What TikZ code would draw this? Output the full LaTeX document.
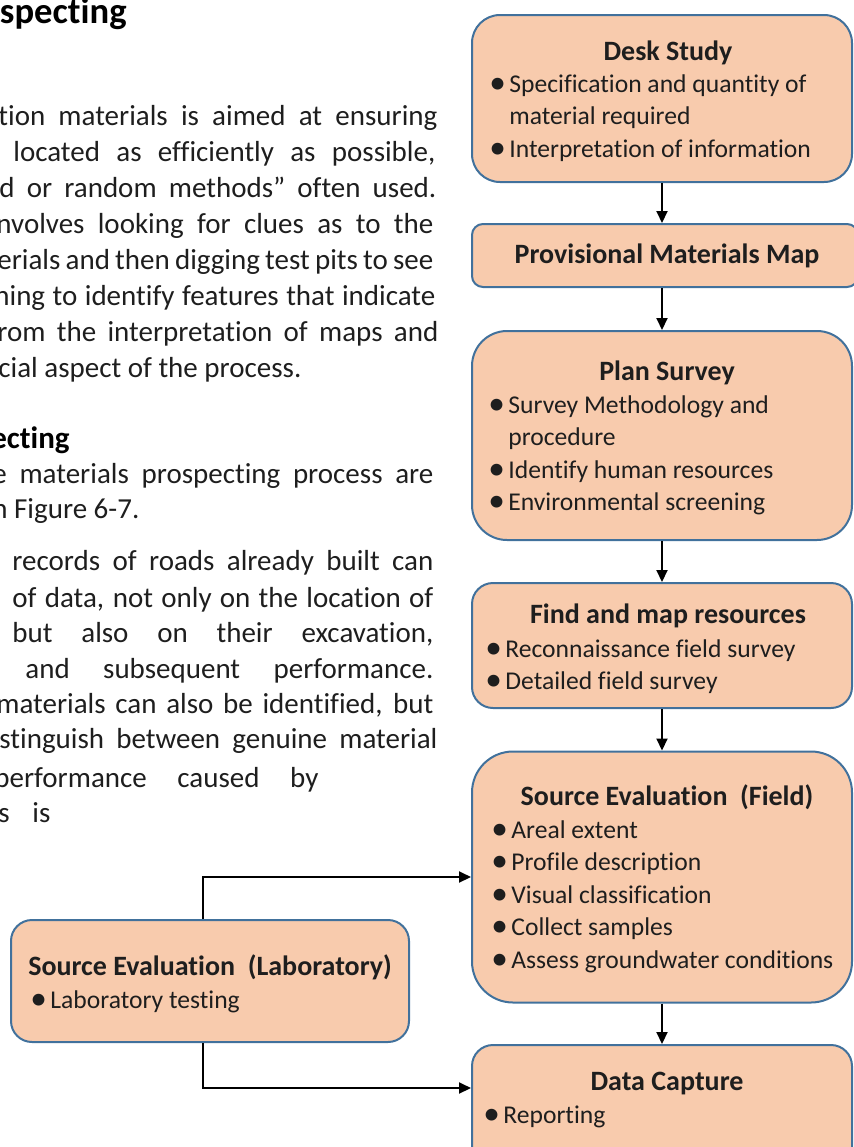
\documentclass[tikz,border=0pt]{standalone}
\usepackage{fontspec}
\setmainfont{Carlito}[Ligatures={NoCommon,NoRare,NoContextual}, RawFeature={-liga,-clig,-calt}]
\usetikzlibrary{arrows.meta}
\definecolor{cFill}{HTML}{F8CBAD}
\definecolor{cLine}{HTML}{41719C}
\definecolor{cText}{HTML}{1E1E1E}
\newcommand{\bul}{\strut\makebox[10pt][l]{\raisebox{-0.6pt}{\scalebox{1.3}{\textbullet}}}}
\newcommand{\cont}{\strut\hspace*{10pt}}

\tikzset{
  stage/.style={draw=cLine, fill=cFill, line width=1pt, inner sep=0pt, minimum width=190pt},
  title/.style={anchor=base, inner sep=0pt, font=\fontsize{14}{17}\selectfont\bfseries, text=cText},
  items/.style={anchor=north west, align=left, inner sep=0pt, font=\fontsize{12.8}{16.25}\selectfont, text=cText},
  body/.style={anchor=base west, inner sep=0pt, font=\fontsize{14.5}{18}\selectfont, text=cText},
  head/.style={anchor=base east, inner sep=0pt, font=\fontsize{#1}{20}\selectfont\bfseries, text=black},
  flow/.style={-{Triangle[length=6pt,width=5.5pt]}, line width=1pt}
}

\begin{document}
\begin{tikzpicture}[x=0.5pt, y=-0.5pt]
  \useasboundingbox (0,0) rectangle (854,1147);
  \clip (0,0) rectangle (854,1147);

  % running text on the left
  \node[head=18.3] (h1) at (127,23) {specting};
  \node[body] (p1) at (-2,125) {\makebox[219.5pt][s]{tion materials is aimed at ensuring}};
  \node[body] (p2) at (13,161) {\makebox[211pt][s]{located as efficiently as possible,}};
  \node[body] (p3) at (-1,197) {\makebox[218.5pt][s]{d or random methods” often used.}};
  \node[body] (p4) at (-4,233) {\makebox[218.5pt][s]{nvolves looking for clues as to the}};
  \node[body] (p5) at (-3,269) {\makebox[218pt][s]{erials and then digging test pits to see}};
  \node[body] (p6) at (-6,305) {\makebox[220.5pt][s]{ning to identify features that indicate}};
  \node[body] (p7) at (-3,341) {\makebox[220.5pt][s]{rom the interpretation of maps and}};
  \node[body] (p8) at (-2,377) {cial aspect of the process.};
  \node[head=15.5] (h2) at (70,448) {ecting};
  \node[body] (p9) at (-8,483) {\makebox[220.5pt][s]{e materials prospecting process are}};
  \node[body] (p10) at (-8,518) {n Figure 6-7.};
  \node[body] (p11) at (12,570) {\makebox[210.5pt][s]{records of roads already built can}};
  \node[body] (p12) at (12,607) {\makebox[210.5pt][s]{of data, not only on the location of}};
  \node[body] (p13) at (12,642) {\makebox[210.5pt][s]{but also on their excavation,}};
  \node[body] (p14) at (25,678) {\makebox[204pt][s]{and subsequent performance.}};
  \node[body] (p15) at (-4,713) {\makebox[218.5pt][s]{materials can also be identified, but}};
  \node[body] (p16) at (-1,748) {\makebox[219pt][s]{stinguish between genuine material}};
  \node[body] (p17) at (-6,787) {\makebox[162pt][s]{performance caused by}};
  \node[body] (p18) at (-2,822) {\makebox[26pt][s]{s is}};

  % flow chart boxes
  \node[stage, minimum height=83.5pt, rounded corners=14pt] (desk) at (662,98.5) {};
  \node[stage, minimum width=193pt, minimum height=31.5pt, rounded corners=5.5pt] (prov) at (665,255.5) {};
  \node[stage, minimum height=104.5pt, rounded corners=17.5pt] (plan) at (662,435.5) {};
  \node[stage, minimum height=62.5pt, rounded corners=10.5pt] (find) at (662,645.5) {};
  \node[stage, minimum height=125.5pt, rounded corners=20.5pt] (field) at (662,877) {};
  \node[stage, minimum height=62.5pt, rounded corners=10.5pt] (capture) at (662,1107.5) {};
  \node[stage, minimum width=199pt, minimum height=61pt, rounded corners=10.5pt] (lab) at (210,981) {};

  % box texts
  \node[title] (desk-t) at (668,60) {Desk Study};
  \node[items] (desk-l) at (489,69) {\bul Specification and quantity of\\\cont material required\\\bul Interpretation of information};
  \node[title] (prov-t) at (667,263) {Provisional Materials Map};
  \node[title] (plan-t) at (667,380) {Plan Survey};
  \node[items] (plan-l) at (488,390) {\bul Survey Methodology and\\\cont procedure\\\bul Identify human resources\\\bul Environmental screening};
  \node[title] (find-t) at (668,623) {Find and map resources};
  \node[items] (find-l) at (485,634) {\bul Reconnaissance field survey\\\bul Detailed field survey};
  \node[title] (field-t) at (667,805) {Source Evaluation\ \ (Field)};
  \node[items] (field-l) at (491,815) {\bul Areal extent\\\bul Profile description\\\bul Visual classification\\\bul Collect samples\\\bul Assess groundwater conditions};
  \node[title] (lab-t) at (210,975) {Source Evaluation\ \ (Laboratory)};
  \node[items] (lab-l) at (30,985) {\bul Laboratory testing};
  \node[title] (capture-t) at (667,1090) {Data Capture};
  \node[items] (capture-l) at (483,1100) {\bul Reporting};

  % connectors
  \coordinate (labout) at (203,0);
  \coordinate (capin) at (0,1088);
  \draw[flow] (desk) -- (prov.north -| desk);
  \draw[flow] (prov.south -| desk) -- (plan);
  \draw[flow] (plan) -- (find);
  \draw[flow] (find) -- (field);
  \draw[flow] (field) -- (capture);
  \draw[flow] (lab.north -| labout) |- (field.west);
  \draw[flow] (lab.south -| labout) |- (capture.west |- capin);
\end{tikzpicture}
\end{document}
